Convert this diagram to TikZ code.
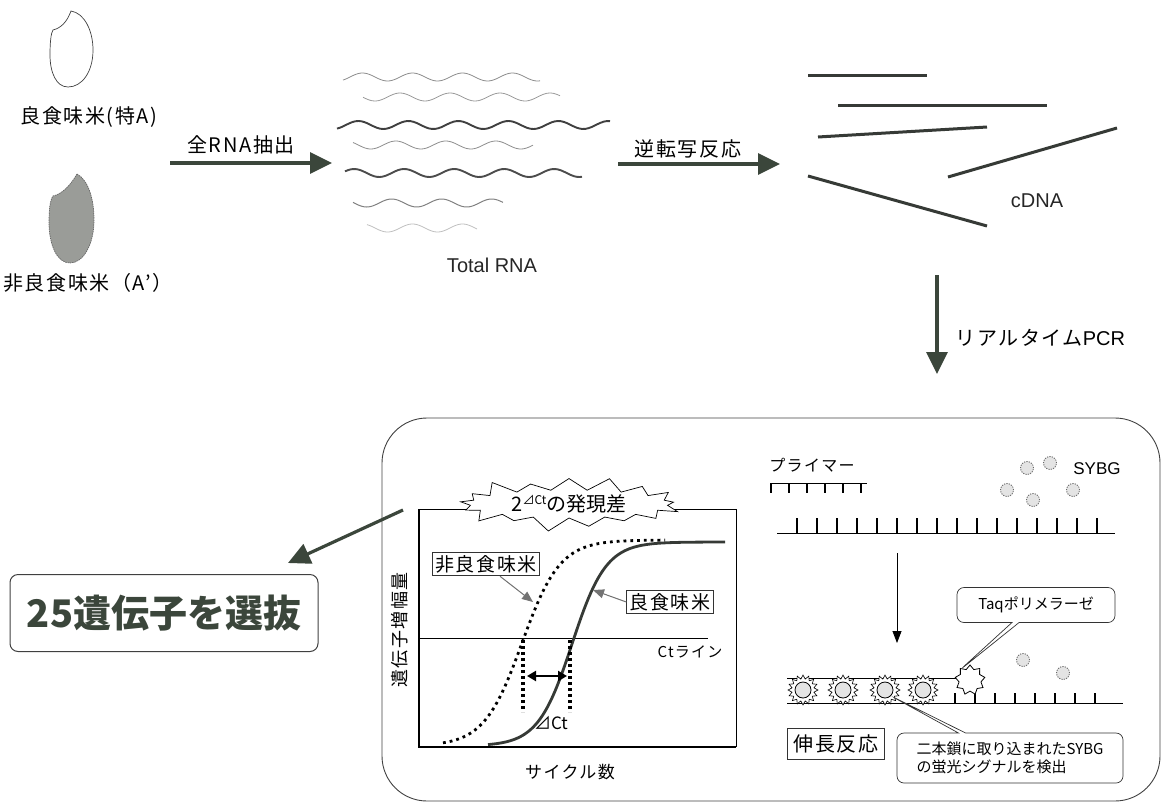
\documentclass[tikz,border=0pt]{standalone}
\usepackage{fontspec}
\setmainfont{Noto Sans CJK JP}
\newfontfamily\jp[LetterSpace=8]{Noto Sans CJK JP}
\newfontfamily\lat{Liberation Sans}
\usepackage{xcolor}
\usepackage{tikz}
\usetikzlibrary{arrows.meta, shapes.symbols, shapes.geometric, shapes.callouts}
\definecolor{arrowgreen}{HTML}{3B463B}
\definecolor{strand}{HTML}{363A36}
\definecolor{grainfill}{HTML}{9A9C98}
\definecolor{dyefill}{HTML}{E4E4E4}

\begin{document}
\begin{tikzpicture}[x=1pt, y=1pt, line width=0.3mm,
    flow/.style={line width=3.2pt, draw=arrowgreen, -{Triangle[length=22pt, width=21pt]}},
    jl/.style={font=\jp\fontsize{20}{24}\selectfont, inner sep=0pt},
    jsmall/.style={font=\jp\fontsize{16}{20}\selectfont, inner sep=0pt},
    boxed/.style={draw=black!80, line width=0.8pt, inner sep=3pt},
    pointer/.style={draw=black!55, fill=black!55, line width=1pt, -{Triangle[length=11pt, width=9pt]}},
    dye/.style={circle, draw=black!60, dash pattern=on 1.2pt off 1.2pt, fill=dyefill, minimum size=13pt, inner sep=0pt},
    glow/.style={star, star points=16, star point ratio=1.35, draw, line width=0.6pt, minimum size=30pt, inner sep=0pt},
    note/.style={rectangle callout, draw=black!80, fill=white, rounded corners=7pt, line width=0.7pt}]
  \useasboundingbox (0,0) rectangle (1164,-806);

  % rice grains
  \draw[line width=0.7pt, black!75] (71,-11) .. controls (84,-13) and (93,-30) .. (93,-50)
        .. controls (93,-72) and (82,-87) .. (68,-87) .. controls (56,-87) and (50,-72) .. (50,-55)
        .. controls (50,-42) and (51,-33) .. (53,-30) .. controls (61,-28) and (67,-22) .. (71,-11) -- cycle;
  \node(Good) [jl] at (89,-117) {良食味米(特A)};
  \draw[line width=0.7pt, black!60, dash pattern=on 1.5pt off 0.8pt, fill=grainfill]
        (77,-174) .. controls (88,-180) and (94,-198) .. (94,-220)
        .. controls (94,-245) and (83,-263) .. (70,-263) .. controls (57,-263) and (49,-245) .. (49,-222)
        .. controls (49,-210) and (50,-200) .. (53,-196) .. controls (62,-194) and (70,-186) .. (77,-174) -- cycle;
  \node(Poor) [jl] at (88,-283) {非良食味米（A’）};

  % extraction
  \coordinate(Ext1) at (170,-163);
  \coordinate(Ext2) at (332,-163);
  \draw[flow] (Ext1) -- (Ext2);
  \node(Extract) [jl] at (241,-145) {全RNA抽出};

  % total RNA
  \foreach \yy/\xa/\xb/\ph/\shade/\lw in {77/343/540/0/45/0.8, 97/363/560/90/40/0.8,
        125/337/610/30/75/1.9, 145/353/533/120/45/0.8, 173/345/582/60/70/1.9,
        203/353/503/150/50/1.0, 228/367/477/0/25/0.8}
    \draw[black!\shade, line width=\lw pt] plot[domain=\xa:\xb, samples=90, smooth]
        (\x, {-\yy + 4*sin(7.2*\x + \ph)});
  \node(TotalRNA) [font=\lat\fontsize{20}{24}\selectfont, black!85] at (492,-265) {Total RNA};

  % reverse transcription
  \coordinate(RT1) at (618,-164);
  \coordinate(RT2) at (780,-164);
  \draw[flow] (RT1) -- (RT2);
  \node(Reverse) [jl] at (688,-149) {逆転写反応};

  % cDNA
  \begin{scope}[line width=3pt, strand]
    \draw (808,-75) -- (927,-75);
    \draw (838,-105) -- (1047,-105);
    \draw (818,-137) -- (987,-127);
    \draw (948,-177) -- (1117,-128);
    \draw (808,-176) -- (987,-226);
  \end{scope}
  \node(cDNA) [font=\lat\fontsize{20}{24}\selectfont, black!85] at (1037,-201) {cDNA};

  % real-time PCR
  \coordinate(PCR1) at (937,-275);
  \coordinate(PCR2) at (937,-374);
  \draw[flow] (PCR1) -- (PCR2);
  \node(RealTime) [jl, anchor=west] at (955,-338) {リアルタイム{\lat PCR}};

  % panel
  \draw[line width=0.9pt, black!75, rounded corners=45pt] (382,-418) rectangle (1160,-801);

  % amplification chart
  \draw[line width=0.7pt] (419,-746) -- (736,-746) -- (736,-509) -- (419,-509);
  \draw[line width=2.6pt] (419,-509) -- (419,-747) -- (736,-747);
  \draw[line width=0.8pt] (419,-638) -- (708,-638);
  \node(CtLine) [jsmall, font=\jp\fontsize{15}{18}\selectfont] at (690,-652) {Ctライン};
  \draw[line width=2.8pt, dash pattern=on 2.8pt off 4pt] plot[domain=443:665, samples=100]
        (\x, {-746 + 206/(1+exp(-(\x-522)/19))});
  \draw[line width=2.8pt, strand] plot[domain=488:725, samples=100]
        (\x, {-746 + 204/(1+exp(-(\x-572)/17))});
  \draw[line width=3.5pt, dash pattern=on 3pt off 3pt] (523,-640) -- (523,-712);
  \draw[line width=3.5pt, dash pattern=on 3pt off 3pt] (570,-640) -- (570,-712);
  \coordinate(Ct1) at (527,-676);
  \coordinate(Ct2) at (567,-676);
  \draw[line width=2.4pt, {Triangle[length=9pt, width=10pt]}-{Triangle[length=9pt, width=10pt]}] (Ct1) -- (Ct2);
  \node(DeltaCt) [font=\fontsize{17}{20}\selectfont] at (551,-723) {⊿Ct};
  \node(PoorBox) [jl, boxed, font=\jp\fontsize{19}{22}\selectfont] at (486,-564) {非良食味米};
  \node(GoodBox) [jl, boxed, font=\jp\fontsize{19}{22}\selectfont] at (670,-602) {良食味米};
  \coordinate(PoorTip) at (533,-602);
  \coordinate(GoodTip) at (593,-590);
  \draw[pointer] (PoorBox.south) ++(14,0) -- (PoorTip);
  \draw[pointer] (GoodBox.west) -- (GoodTip);
  \node(Amount) [jl, rotate=90, font=\jp\fontsize{18}{22}\selectfont] at (400,-630) {遺伝子増幅量};
  \node(Cycles) [jl, font=\jp\fontsize{17}{20}\selectfont] at (570,-772) {サイクル数};
  \node(Burst) [starburst, draw, fill=white, line width=0.7pt, starburst points=17,
        starburst point height=16pt, minimum width=230pt, minimum height=60pt,
        inner sep=0pt, font=\fontsize{20}{24}\selectfont] at (569,-504)
        {2\raisebox{7pt}{\fontsize{12}{14}\selectfont ⊿Ct}の発現差};

  % selection
  \node(Result) [draw=black!75, line width=1pt, rounded corners=8pt, minimum width=308pt,
        minimum height=77pt, text=arrowgreen, font=\fontsize{38}{44}\selectfont\bfseries] at (164,-613)
        {25遺伝子を選抜};
  \coordinate(Sel1) at (403,-510);
  \coordinate(Sel2) at (288,-563);
  \draw[flow] (Sel1) -- (Sel2);

  % primer and template
  \node(Primer) [jsmall] at (812,-465) {プライマー};
  \draw[line width=1pt] (770,-483) -- (867,-483);
  \foreach \i in {0,...,5}
    \draw[line width=1.2pt] (771+18*\i,-483) -- (771+18*\i,-493);
  \draw[line width=1pt] (777,-533) -- (1115,-533);
  \foreach \i in {0,...,15}
    \draw[line width=1.4pt] (797+20*\i,-533) -- (797+20*\i,-518);
  \node(Dye1) [dye] at (1027,-468) {};
  \node(Dye2) [dye] at (1050,-463) {};
  \node(Dye3) [dye] at (1007,-490) {};
  \node(Dye4) [dye] at (1033,-500) {};
  \node(Dye5) [dye] at (1073,-490) {};
  \node(SYBG) [font=\lat\fontsize{17}{20}\selectfont] at (1097,-469) {SYBG};

  \coordinate(Step1) at (897,-553);
  \coordinate(Step2) at (897,-643);
  \draw[line width=0.8pt, -{Triangle[length=12pt, width=9pt]}] (Step1) -- (Step2);

  % elongation
  \draw[line width=1pt] (787,-678) -- (957,-678);
  \draw[line width=1pt] (787,-703) -- (1123,-703);
  \foreach \i in {0,...,7}
    \draw[line width=1.2pt] (955+20*\i,-703) -- (955+20*\i,-693);
  \foreach \n/\xx in {1/803, 2/843, 3/885, 4/923} {
    \node(Glow\n) [glow, fill=white] at (\xx,-690) {};
    \node(Bound\n) [circle, draw, line width=0.8pt, fill=dyefill, minimum size=16pt, inner sep=0pt] at (\xx,-690) {};
  }
  \node(Polymerase) [star, star points=9, star point ratio=1.35, draw, fill=white, line width=0.8pt,
        minimum size=30pt, inner sep=0pt] at (970,-680) {};
  \node(Dye6) [dye] at (1023,-660) {};
  \node(Dye7) [dye] at (1063,-673) {};
  \node(TaqNote) [note, minimum width=158pt, minimum height=35pt, font=\fontsize{15}{18}\selectfont,
        callout absolute pointer={(Polymerase.north west)}] at (1036,-605) {Taqポリメラーゼ};
  \node(Elongation) [jl, boxed, inner sep=6pt] at (836,-744) {伸長反応};
  \node(SignalNote) [note, minimum width=226pt, minimum height=50pt, align=left,
        font=\fontsize{15}{18}\selectfont, callout absolute pointer={(Bound3.south east)}] at (1010,-758)
        {二本鎖に取り込まれたSYBG\\の蛍光シグナルを検出};
\end{tikzpicture}
\end{document}
